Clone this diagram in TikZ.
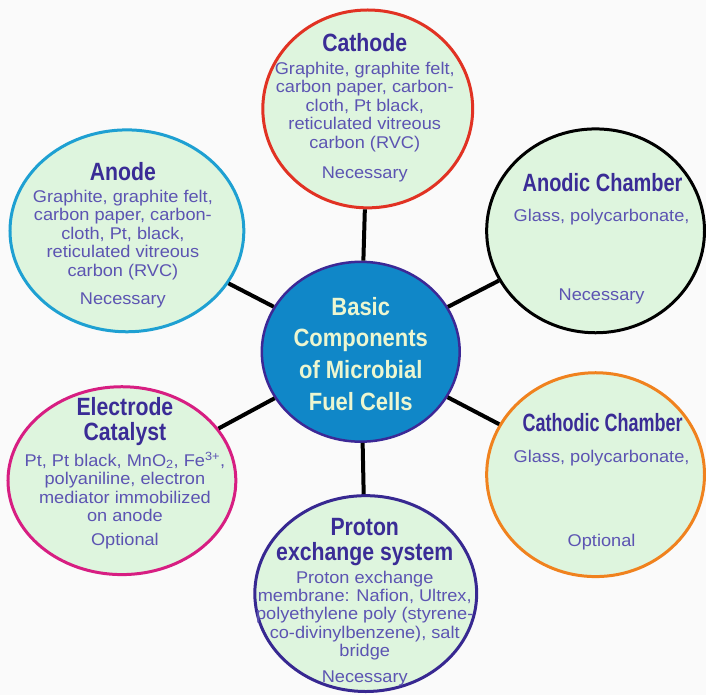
\documentclass[tikz,border=0pt]{standalone}
\usepackage{fontspec}
\setmainfont{Liberation Sans}
\newfontfamily\titlefont{Liberation Sans}[FakeStretch=0.85]
\newfontfamily\anodictitle{Liberation Sans}[FakeStretch=0.8]
\newfontfamily\cathodictitle{Liberation Sans}[FakeStretch=0.72]
\newfontfamily\hubfont{Liberation Sans}[FakeStretch=0.88]
\newfontfamily\bodyfont{Liberation Sans}[FakeStretch=1.07]
\usetikzlibrary{shapes.geometric}
\definecolor{mint}{RGB}{222,245,222}
\definecolor{headblue}{RGB}{58,44,150}
\definecolor{bodyblue}{RGB}{92,84,178}
\definecolor{hubfill}{RGB}{16,135,200}
\definecolor{hubdraw}{RGB}{60,40,150}
\definecolor{hubtext}{RGB}{236,246,208}
\definecolor{cathred}{RGB}{225,50,35}
\definecolor{anodecyan}{RGB}{30,160,210}
\definecolor{cathorange}{RGB}{240,130,30}
\definecolor{catmagenta}{RGB}{215,30,130}
\definecolor{protonblue}{RGB}{55,40,145}
\definecolor{paper}{RGB}{250,250,250}

\begin{document}
\begin{tikzpicture}[x=1pt,y=-1pt,
	part node/.style={ellipse, draw, line width=3pt, fill=mint, inner sep=0pt},
	hub node/.style={ellipse, draw=hubdraw, line width=2.5pt, fill=hubfill, inner sep=0pt},
	head text/.style={text=headblue, align=center, font=\titlefont\bfseries\fontsize{25}{25}\selectfont},
	body text/.style={text=bodyblue, align=center, font=\bodyfont\fontsize{17}{18.4}\selectfont},
	spoke/.style={draw=black, line width=4pt}]
			\fill[paper] (0,0) rectangle (706,695);
			
			% Ellipses
			\node[hub node, minimum width=198, minimum height=180] (1) at (361,352) {};
			\node[part node, draw=cathred, minimum width=210, minimum height=198] (2) at (368,109) {};
			\node[part node, draw=black, minimum width=218, minimum height=204] (3) at (596,231) {};
			\node[part node, draw=cathorange, minimum width=218, minimum height=204] (4) at (596,475) {};
			\node[part node, draw=protonblue, minimum width=222, minimum height=196] (5) at (366,594) {};
			\node[part node, draw=catmagenta, minimum width=228, minimum height=188] (6) at (122,481) {};
			\node[part node, draw=anodecyan, minimum width=234, minimum height=202] (7) at (127,231) {};
			
			\path (1)
			edge[spoke] (2)
			edge[spoke] (3)
			edge[spoke] (4)
			edge[spoke] (5)
			edge[spoke] (6)
			edge[spoke] (7);
			
			% Hub text
			\node[text=hubtext, align=center, font=\hubfont\bfseries\fontsize{25}{31.7}\selectfont] (1t) at (361,354) {Basic\\Components\\of Microbial\\Fuel Cells};
			
			% Cathode
			\node[head text] (2t) at (365,43) {Cathode};
			\node[body text] (2b) at (365,107) {Graphite, graphite felt,\\carbon paper, carbon-\\cloth, Pt black,\\reticulated vitreous\\carbon (RVC)};
			\node[body text] (2s) at (365,175) {Necessary};
			
			% Anodic chamber
			\node[head text, font=\anodictitle\bfseries\fontsize{25}{25}\selectfont] (3t) at (603,183) {Anodic Chamber};
			\node[body text] (3b) at (602,217) {Glass, polycarbonate,};
			\node[body text] (3s) at (602,297) {Necessary};
			
			% Cathodic chamber
			\node[head text, font=\cathodictitle\bfseries\fontsize{25}{25}\selectfont] (4t) at (603,423) {Cathodic Chamber};
			\node[body text] (4b) at (602,458) {Glass, polycarbonate,};
			\node[body text] (4s) at (602,542) {Optional};
			
			% Proton exchange system
			\node[head text] (5t) at (365,542) {Proton\\exchange system};
			\node[body text] (5b) at (365,616) {Proton exchange\\membrane: Nafion, Ultrex,\\polyethylene poly (styrene-\\co-divinylbenzene), salt\\bridge};
			\node[body text] (5s) at (365,679) {Necessary};
			
			% Electrode catalyst
			\node[head text] (6t) at (125,422) {Electrode\\Catalyst};
			\node[body text] (6b) at (125,487) {Pt, Pt black, MnO\textsubscript{2}, Fe\textsuperscript{3+},\\polyaniline, electron\\mediator immobilized\\on anode};
			\node[body text] (6s) at (125,541) {Optional};
			
			% Anode
			\node[head text] (7t) at (123,172) {Anode};
			\node[body text] (7b) at (123,235) {Graphite, graphite felt,\\carbon paper, carbon-\\cloth, Pt, black,\\reticulated vitreous\\carbon (RVC)};
			\node[body text] (7s) at (123,301) {Necessary};
			
		\end{tikzpicture}
\end{document}
